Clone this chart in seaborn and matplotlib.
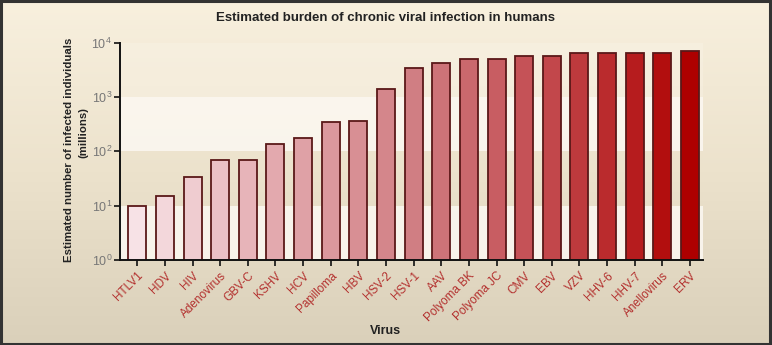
import numpy as np
import pandas as pd
import matplotlib
matplotlib.use("Agg")
import matplotlib.pyplot as plt
import seaborn as sns
from matplotlib.colors import LinearSegmentedColormap, to_hex
from matplotlib.patches import Rectangle

viruses = ["HTLV1", "HDV", "HIV", "Adenovirus", "GBV-C", "KSHV", "HCV", "Papilloma",
           "HBV", "HSV-2", "HSV-1", "AAV", "Polyoma BK", "Polyoma JC", "CMV", "EBV",
           "VZV", "HHV-6", "HHV-7", "Anellovirus", "ERV"]
infected_millions = [10, 15, 33, 68, 68, 137, 175, 345, 360, 1400, 3400, 4150, 5000,
                     5000, 5600, 5600, 6300, 6300, 6300, 6400, 6900]

sns.set_theme(style="white")
plt.rcParams['font.family'] = ['Liberation Sans', 'DejaVu Sans']

df = pd.DataFrame({"Virus": viruses, "Infected": infected_millions})

cmap = LinearSegmentedColormap.from_list("reds", ["#f7e2e6", "#e3a9ae", "#d07e83", "#c2484c", "#ae0000"])
palette = [to_hex(cmap(i / (len(viruses) - 1))) for i in range(len(viruses))]

fig = plt.figure(figsize=(7.72, 3.45), dpi=100)

# background gradient
bg = fig.add_axes([0, 0, 1, 1], zorder=-10)
grad = np.linspace(0, 1, 256).reshape(-1, 1)
bg_cmap = LinearSegmentedColormap.from_list("bg", ["#f8f0de", "#ece2cc", "#dad0ba"])
bg.imshow(grad, aspect="auto", cmap=bg_cmap, extent=[0, 1, 0, 1], origin="upper")
bg.set_axis_off()

ax = fig.add_axes([0.1560, 0.2464, 0.7546, 0.6304])
ax.patch.set_alpha(0)
ax.set_yscale("log")
for lo, hi in [(1, 10), (100, 1000)]:
    ax.axhspan(lo, hi, color="#fcf8f2", alpha=0.85, lw=0, zorder=0)
ax.axhspan(1000, 10000, color="#fbf5ea", alpha=0.35, lw=0, zorder=0)

sns.barplot(data=df, x="Virus", y="Infected", hue="Virus", palette=palette,
            saturation=1, legend=False, ax=ax, width=0.65, edgecolor="#5a1818",
            linewidth=1.3, zorder=2)
ax.set_ylim(1, 1e4)
ax.set_xlim(-0.61, 20.47)

for s in ["top", "right"]:
    ax.spines[s].set_visible(False)
for s in ["left", "bottom"]:
    ax.spines[s].set_color("#111111")
    ax.spines[s].set_linewidth(1.4)
    ax.spines[s].set_zorder(3)

ax.tick_params(axis="both", which="major", direction="out", length=4, width=1.2,
               color="#111111", bottom=True, left=True)
ax.tick_params(axis="y", which="minor", left=False)
ax.tick_params(axis="y", labelsize=9, labelcolor="#777777", pad=2)
ax.set_yticks([1, 10, 100, 1000, 10000])
ax.set_xticks(range(len(viruses)))
ax.set_xticklabels(viruses, rotation=45, ha="right", rotation_mode="anchor",
                   color="#b3302e", fontsize=8.5)
ax.tick_params(axis="x", pad=3)

ax.set_xlabel("Virus", fontsize=9, fontweight="bold", color="#222222")
ax.xaxis.set_label_coords(0.455, -0.30)
ax.set_ylabel("")
fig.text(69 / 772, 1 - 150 / 345, "Estimated number of infected individuals",
         rotation=90, ha="center", va="center", fontsize=8.2, fontweight="bold",
         color="#222222")
fig.text(83 / 772, 1 - 132 / 345, "(millions)",
         rotation=90, ha="center", va="center", fontsize=8.2, fontweight="bold",
         color="#222222")
fig.text(0.5, 0.947, "Estimated burden of chronic viral infection in humans",
         ha="center", va="center", fontsize=9.5, fontweight="bold", color="#222222")

fig.patches.append(Rectangle((0.001, 0.003), 0.996, 0.995, transform=fig.transFigure,
                             fill=False, edgecolor="#333333", linewidth=2.2))

fig.savefig("out.png", dpi=100)
